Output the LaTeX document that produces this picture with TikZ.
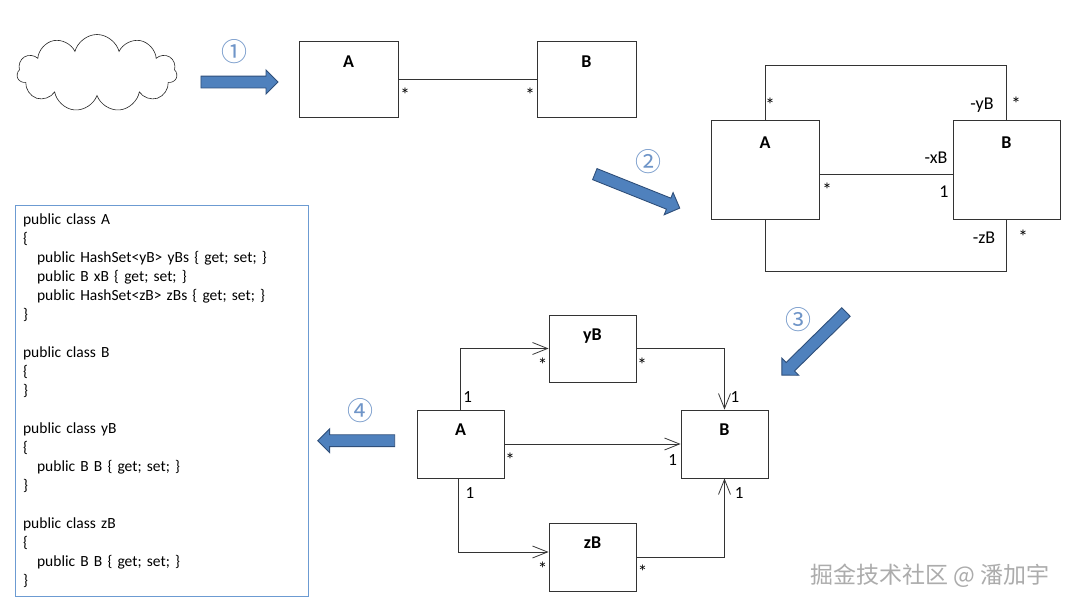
\documentclass[tikz,border=0pt]{standalone}
\usepackage{fontspec}
\setmainfont{Carlito}
\newfontfamily\cjkfont{Noto Sans CJK SC}
\usetikzlibrary{positioning,shapes.symbols,shapes.arrows,arrows.meta}
\definecolor{arrowfill}{HTML}{4F81BD}
\definecolor{arrowline}{HTML}{2F4F7A}
\definecolor{stepnum}{HTML}{6F95C8}
\definecolor{codeframe}{HTML}{6C9BD2}
\tikzset{
  cls/.style={draw=black!80, line width=0.8pt, inner sep=0pt},
  clsname/.style={anchor=center, font=\bfseries\fontsize{18}{18}\selectfont},
  mult/.style={inner sep=0pt, font=\fontsize{17}{17}\selectfont},
  role/.style={inner sep=0pt, font=\fontsize{18}{18}\selectfont},
  star/.style={inner sep=0pt, font=\fontsize{19}{19}\selectfont},
  link/.style={draw=black!80, line width=0.8pt},
  nav/.style={-{Straight Barb[length=15pt,width=12pt]}},
  bigarrow/.style={single arrow, draw=arrowline, fill=arrowfill, line width=0.9pt,
    minimum width=23pt, single arrow head extend=6pt, inner xsep=0pt, inner ysep=5.5pt},
  stepno/.style={text=stepnum, font=\cjkfont\fontsize{26}{26}\selectfont, inner sep=0pt}
}
\begin{document}
\begin{tikzpicture}[x=1pt,y=-1pt]
  \fill[white] (0,0) rectangle (1080,608);
  \useasboundingbox (0,0) rectangle (1080,608);

  % step 1: idea -> first model
  \node[cloud, draw=black!85, line width=0.6pt, cloud puffs=11, aspect=2.1,
    minimum width=160pt, minimum height=77pt, inner sep=0pt] (idea) at (97,73) {};
  \node[bigarrow, minimum height=77pt] (arrOne) at (236.5,82) {};
  \node[stepno] (numOne) at (234,52) {①};

  \node[cls, minimum width=99pt, minimum height=76pt,
    label={[clsname,yshift=-21pt]north:A}] (A1) at (348.5,79) {};
  \node[cls, minimum width=99pt, minimum height=76pt,
    label={[clsname,yshift=-21pt]north:B}] (B1) at (586.5,79) {};
  \draw[link] (A1.east) -- (B1.west);
  \node[star] (sA1) at (405,95) {*};
  \node[star] (sB1) at (530,95) {*};

  % step 2: three associations
  \node[bigarrow, minimum height=91.5pt, rotate=-21.8] (arrTwo) at (634.5,190) {};
  \node[stepno] (numTwo) at (648,162) {②};

  \node[cls, minimum width=108pt, minimum height=99pt,
    label={[clsname,yshift=-23pt]north:A}] (A2) at (765,169.5) {};
  \node[cls, minimum width=107pt, minimum height=99pt,
    label={[clsname,yshift=-23pt]north:B}] (B2) at (1006.5,169.5) {};
  \draw[link] (A2.north) -- ++(0,-54) -| (B2.north);
  \draw[link] ([yshift=-4.5pt]A2.east) -- ([yshift=-4.5pt]B2.west);
  \draw[link] (A2.south) -- ++(0,52) -| (B2.south);
  \node[star] (sA2y) at (770,105) {*};
  \node[role] (rY) at (982,105) {-yB};
  \node[star] (sB2y) at (1016,104) {*};
  \node[star] (sA2x) at (827,190) {*};
  \node[role] (rX) at (936,158) {-xB};
  \node[role] (oneX) at (944,192) {1};
  \node[role] (rZ) at (984,238) {-zB};
  \node[star] (sB2z) at (1023,237) {*};

  % step 3: association classes
  \node[bigarrow, minimum height=90pt, rotate=-135.5] (arrThree) at (816,341.5) {};
  \node[stepno] (numThree) at (798,320) {③};

  \node[cls, minimum width=87pt, minimum height=68pt,
    label={[clsname,yshift=-20.5pt]north:A}] (A3) at (460.5,444) {};
  \node[cls, minimum width=87pt, minimum height=68pt,
    label={[clsname,yshift=-20.5pt]north:B}] (B3) at (724.5,444) {};
  \node[cls, minimum width=87pt, minimum height=67pt,
    label={[clsname,yshift=-21pt]north:yB}] (yB) at (592.5,348.5) {};
  \node[cls, minimum width=87pt, minimum height=68pt,
    label={[clsname,yshift=-20pt]north:zB}] (zB) at (592.5,557) {};
  \draw[link, nav] (A3.north) |- (yB.west);
  \draw[link, nav] (yB.east) -| (B3.north);
  \draw[link, nav] (A3.east) -- (B3.west);
  \draw[link, nav] ([xshift=-2pt]A3.south) |- ([yshift=5pt]zB.west);
  \draw[link, nav] (zB.east) -| (B3.south);
  \node[mult] (oneAy) at (467.7,397) {1};
  \node[star] (sYa) at (542.7,365) {*};
  \node[star] (sYb) at (642,365) {*};
  \node[mult] (oneBy) at (735,397) {1};
  \node[star] (sAb) at (510,460) {*};
  \node[mult] (oneBa) at (672.7,460) {1};
  \node[mult] (oneAz) at (470,493) {1};
  \node[star] (sZa) at (542.7,569) {*};
  \node[star] (sZb) at (642.7,572) {*};
  \node[mult] (oneBz) at (739.3,493) {1};

  % step 4: code
  \node[bigarrow, minimum height=77pt, rotate=180] (arrFour) at (359.2,440.7) {};
  \node[stepno] (numFour) at (360,411) {④};

  \node[draw=codeframe, line width=0.8pt, anchor=north west, minimum width=293pt,
    minimum height=391pt, text width=277pt, inner xsep=8pt, align=left,
    font=\fontsize{15.5}{19}\selectfont] (code) at (14.7,205) {%
    public class A\\
    \{\\
    \hspace*{14pt}public HashSet<yB> yBs \{ get; set; \}\\
    \hspace*{14pt}public B xB \{ get; set; \}\\
    \hspace*{14pt}public HashSet<zB> zBs \{ get; set; \}\\
    \}\\
    \mbox{}\\
    public class B\\
    \{\\
    \}\\
    \mbox{}\\
    public class yB\\
    \{\\
    \hspace*{14pt}public B B \{ get; set; \}\\
    \}\\
    \mbox{}\\
    public class zB\\
    \{\\
    \hspace*{14pt}public B B \{ get; set; \}\\
    \}};

  \node[font=\cjkfont\fontsize{23}{23}\selectfont, text=gray!65] (mark) at (930,576)
    {掘金技术社区 @ 潘加宇};
\end{tikzpicture}
\end{document}
